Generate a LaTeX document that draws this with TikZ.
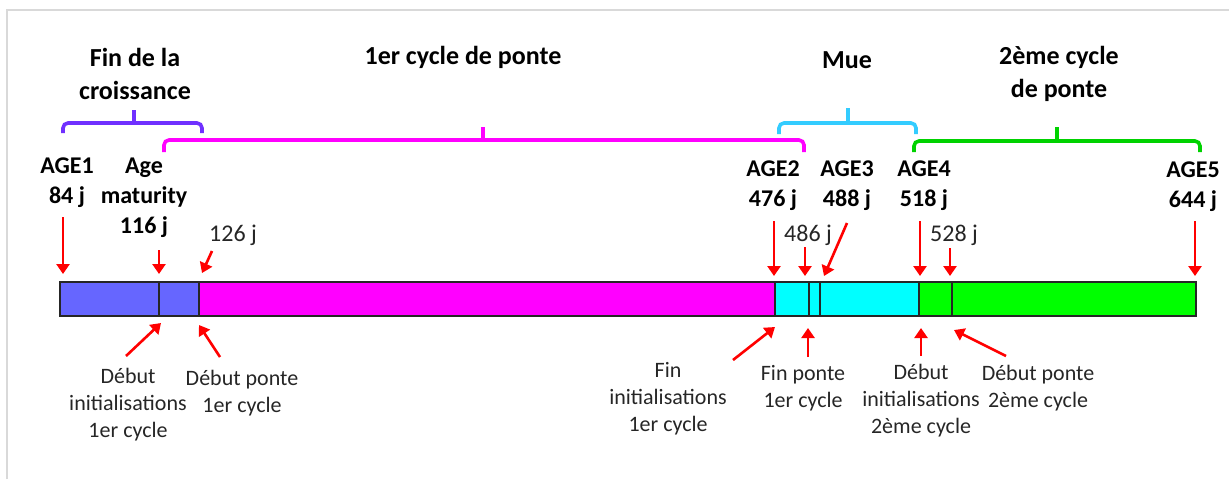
\documentclass[tikz,border=0pt]{standalone}
\usepackage{fontspec}
\setmainfont{Carlito}
\usetikzlibrary{arrows.meta}

\definecolor{barblue}{RGB}{102,102,255}
\definecolor{barmagenta}{RGB}{255,0,255}
\definecolor{barcyan}{RGB}{0,255,255}
\definecolor{bargreen}{RGB}{0,255,0}
\definecolor{brviolet}{RGB}{112,48,255}
\definecolor{brcyan}{RGB}{51,204,255}
\definecolor{brgreen}{RGB}{0,210,0}

\tikzset{
  phase/.style={font=\bfseries\fontsize{13}{16.5}\selectfont, align=center},
  agelbl/.style={font=\bfseries\fontsize{12}{15}\selectfont, align=center},
  daylbl/.style={font=\fontsize{12}{14}\selectfont, text=black!85},
  evtlbl/.style={font=\fontsize{11}{13.5}\selectfont, align=center, text=black!85},
  pointer/.style={red, line width=1.3pt, -{Triangle[length=5pt,width=6.5pt]}},
  brace/.style={line width=1.8pt, rounded corners=2.5pt},
}

\begin{document}
\begin{tikzpicture}[x=0.5pt, y=-0.5pt, inner sep=0pt]

  \useasboundingbox (0,0) rectangle (1229,479);
  \draw[black!15, line width=1pt] (7,479) -- (7,10) -- (1229,10);

  % the bar
  \foreach \xa/\xb/\c in {60/159/barblue, 159/199/barblue, 199/775/barmagenta,
      775/809/barcyan, 809/820/barcyan, 820/919/barcyan,
      919/952/bargreen, 952/1196/bargreen}
    \draw[fill=\c, draw=black!85, line width=0.6pt] (\xa,282) rectangle (\xb,316);

  % brackets
  \foreach \xa/\xb/\xm/\yb/\ye/\yt/\c in {63/202/134/123/133/110/brviolet,
      164/804/483/140/152/127/barmagenta,
      779/916/848/123/134/108/brcyan,
      914/1200/1057/141/152/127/brgreen}{
    \draw[brace, \c] (\xa,\ye) -- (\xa,\yb) -- (\xb,\yb) -- (\xb,\ye);
    \draw[brace, \c] (\xm,\yb) -- (\xm,\yt);}

  % phases
  \node[phase] (fin) at (135,74) {Fin de la\\croissance};
  \node[phase] (ponte1) at (463,57) {1er cycle de ponte};
  \node[phase] (mue) at (847,60) {Mue};
  \node[phase] (ponte2) at (1059,74) {2ème cycle\\de ponte};

  % ages
  \node[agelbl] (age1) at (67,183) {AGE1\\84 j};
  \node[agelbl] (agemat) at (144,198) {Age\\maturity\\116 j};
  \node[agelbl] (age2) at (773,186) {AGE2\\476 j};
  \node[agelbl] (age3) at (847,186) {AGE3\\488 j};
  \node[agelbl] (age4) at (924,186) {AGE4\\518 j};
  \node[agelbl] (age5) at (1193,187) {AGE5\\644 j};

  \node[daylbl] (d126) at (233,235) {126 j};
  \node[daylbl] (d486) at (808,235) {486 j};
  \node[daylbl] (d528) at (954,235) {528 j};

  % events
  \node[evtlbl] (ev1) at (128,405) {Début\\initialisations\\1er cycle};
  \node[evtlbl] (ev2) at (242,393.5) {Début ponte\\1er cycle};
  \node[evtlbl] (ev3) at (668,398.5) {Fin\\initialisations\\1er cycle};
  \node[evtlbl] (ev4) at (803,388) {Fin ponte\\1er cycle};
  \node[evtlbl] (ev5) at (921,401) {Début\\initialisations\\2ème cycle};
  \node[evtlbl] (ev6) at (1038,388) {Début ponte\\2ème cycle};

  % arrows
  \foreach \n/\xt/\yt/\xh/\yh in {a1/63/217/63/274, am/159/250/159/274,
      a126/212/251/202/273, a2/774/221/774/276, a486/805/247/805/276,
      a3/847/223/824/276, a4/920/221/920/276, a528/950/248/950/276,
      a5/1195/221/1195/276,
      e1/126/356/161/323, e2/220/357/199/325, e3/733/360/775/327,
      e4/808/357/808/328, e5/921/356/921/328, e6/1006/356/954/330}{
    \coordinate (t\n) at (\xt,\yt);
    \coordinate (h\n) at (\xh,\yh);
    \draw[pointer] (t\n) -- (h\n);}
\end{tikzpicture}
\end{document}
